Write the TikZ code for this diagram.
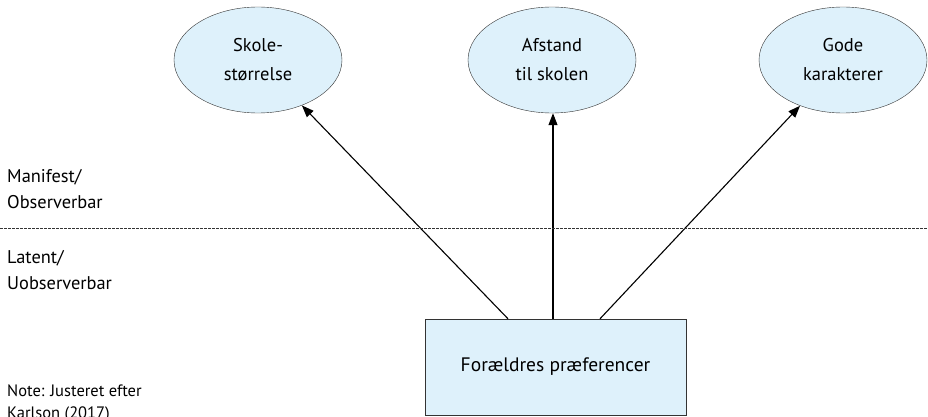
\documentclass[tikz,border=0pt]{standalone}
\usepackage{fontspec}
\setmainfont{PT Sans}
\usetikzlibrary{shapes.geometric,arrows.meta}
\definecolor{lysblaa}{RGB}{222,241,251}
\tikzset{
	maalt/.style={ellipse, draw=black!80, fill=lysblaa, minimum width=168pt, minimum height=106pt, align=center, font=\fontsize{18.5}{29}\selectfont},
	latent/.style={rectangle, draw=black!80, fill=lysblaa, minimum width=261pt, minimum height=96pt, font=\fontsize{19.5}{22}\selectfont},
	sidetekst/.style={anchor=west, align=left, inner sep=0pt, font=\fontsize{18.4}{26}\selectfont},
	pil/.style={-{Triangle[length=12pt,width=9pt]}, line width=1.1pt}
}
\begin{document}
\begin{tikzpicture}[x=1pt,y=-1pt]
		%%%%% START %%%%%
		\useasboundingbox (0, 0) rectangle (928, 417);
		
		\node[maalt] (skole) at (258, 60) {Skole-\\størrelse};
		\node[maalt] (afstand) at (552, 60) {Afstand\\til skolen};
		\node[maalt] (karakter) at (843, 60) {Gode\\karakterer};
		
		\node[latent] (foraeldre) at (555.5, 367) {Forældres præferencer};
		
		\draw[pil] ([xshift=-47.5pt]foraeldre.north) -- (skole);
		\draw[pil] ([xshift=-2.5pt]foraeldre.north) -- ([xshift=1pt]afstand.south);
		\draw[pil] ([xshift=44.5pt]foraeldre.north) -- (karakter);
		
		\coordinate (skel venstre) at (0, 228);
		\coordinate (skel hoejre) at (928, 228);
		\draw[black!80, line width=0.6pt, dash pattern=on 2.5pt off 1.5pt] (skel venstre) -- (skel hoejre);
		
		\node[sidetekst] (manifest) at (7, 189) {Manifest/\\Observerbar};
		\node[sidetekst] (uobs) at (7, 270) {Latent/\\Uobserverbar};
		\node[sidetekst, font=\fontsize{16.5}{22}\selectfont] (note) at (7, 403) {Note: Justeret efter\\Karlson (2017)};
		%%%%% END %%%%%
\end{tikzpicture}
\end{document}
